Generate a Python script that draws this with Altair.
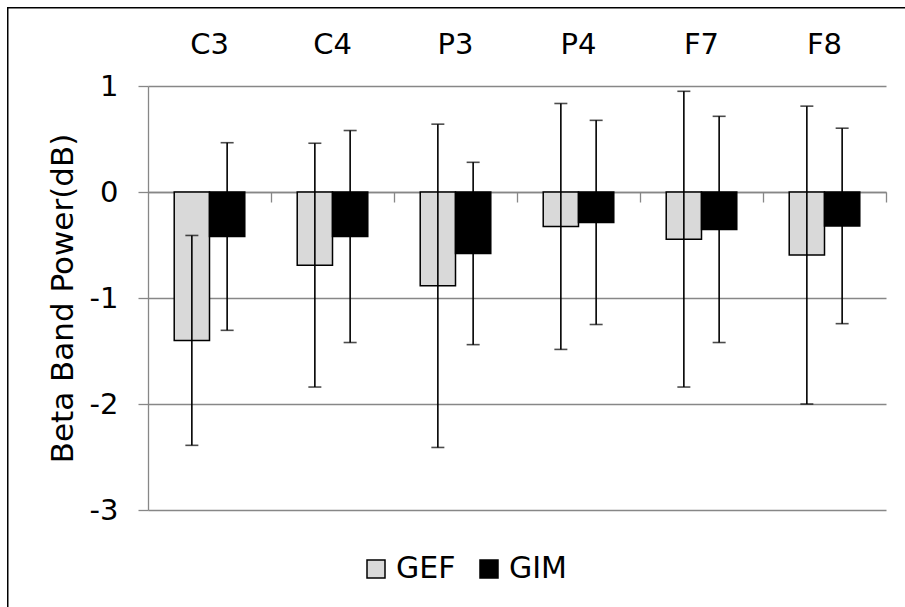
import altair as alt
import pandas as pd

electrodes = ["C3", "C4", "P3", "P4", "F7", "F8"]
groups = ["GEF", "GIM"]
gef_mean = [-1.40, -0.69, -0.885, -0.325, -0.445, -0.595]
gef_sd = [0.99, 1.15, 1.525, 1.16, 1.395, 1.405]
gim_mean = [-0.42, -0.42, -0.58, -0.287, -0.353, -0.32]
gim_sd = [0.885, 1.0, 0.86, 0.963, 1.067, 0.922]
y_ticks = [-3, -2, -1, 0, 1]

rows = []
for i, e in enumerate(electrodes):
    rows.append({"electrode": e, "group": "GEF", "mean": gef_mean[i], "sd": gef_sd[i]})
    rows.append({"electrode": e, "group": "GIM", "mean": gim_mean[i], "sd": gim_sd[i]})
df = pd.DataFrame(rows)
df["lo"] = df["mean"] - df["sd"]
df["hi"] = df["mean"] + df["sd"]

FONT = "DejaVu Sans"
GRID = "#878787"

xscale = alt.Scale(domain=electrodes, paddingInner=0, paddingOuter=0)
xoff = alt.XOffset("group:N", sort=groups,
                   scale=alt.Scale(domain=groups, paddingOuter=0.743, paddingInner=0))
yscale = alt.Scale(domain=[-3, 1], nice=False, zero=False)

base = alt.Chart(df)

bars = base.mark_bar(stroke="black", strokeWidth=1.5).encode(
    x=alt.X("electrode:N", sort=electrodes, scale=xscale,
            axis=alt.Axis(orient="top", title=None, ticks=False, tickSize=0, domain=False,
                          labelPadding=33, labelBaseline="alphabetic", labelAngle=0,
                          labelFontSize=29, labelFont=FONT, labelColor="black", grid=False)),
    xOffset=xoff,
    y=alt.Y("mean:Q", scale=yscale,
            axis=alt.Axis(values=y_ticks, title="Beta Band Power(dB)", titleFont=FONT,
                          titleFontSize=31, titleFontWeight="normal", titleColor="black",
                          titleX=-76, titleY=212, titleAngle=-90, titleAlign="center",
                          titleBaseline="alphabetic",
                          labelFont=FONT, labelFontSize=29, labelColor="black",
                          labelExpr="'' + datum.value", labelPadding=20,
                          tickSize=10, tickColor=GRID, tickWidth=1.3,
                          domainColor=GRID, domainWidth=1.3,
                          grid=True, gridColor=GRID, gridWidth=1.3)),
    y2=alt.datum(0),
    fill=alt.Fill("group:N", sort=groups,
                  scale=alt.Scale(domain=groups, range=["#d9d9d9", "#000000"]),
                  legend=alt.Legend(title=None, orient="none", legendX=213, legendY=468,
                                    direction="horizontal", symbolType="square",
                                    symbolSize=324, symbolStrokeColor="black",
                                    symbolStrokeWidth=1.5, labelFont=FONT,
                                    labelFontSize=30, labelColor="black",
                                    labelOffset=5, columnPadding=18, padding=0)),
)

err = base.mark_rule(color="black", strokeWidth=1.6).encode(
    x=alt.X("electrode:N", sort=electrodes, scale=xscale,
            axis=alt.Axis(orient="bottom", offset=-318, title=None, labels=False,
                          bandPosition=1, tickSize=10, tickColor=GRID, tickWidth=1.3,
                          domainColor=GRID, domainWidth=1.3, grid=False)),
    xOffset=xoff,
    y=alt.Y("lo:Q", scale=yscale, axis=None),
    y2="hi:Q",
)

caps_lo = base.mark_tick(color="black", thickness=1.6, size=13, orient="horizontal").encode(
    x=alt.X("electrode:N", sort=electrodes, scale=xscale, axis=None),
    xOffset=xoff,
    y=alt.Y("lo:Q", scale=yscale, axis=None),
)
caps_hi = base.mark_tick(color="black", thickness=1.6, size=13, orient="horizontal").encode(
    x=alt.X("electrode:N", sort=electrodes, scale=xscale, axis=None),
    xOffset=xoff,
    y=alt.Y("hi:Q", scale=yscale, axis=None),
)

frame_df = pd.DataFrame({"f": [0]})
frame_left = alt.Chart(frame_df).mark_rect(fill="black", strokeWidth=0).encode(
    x=alt.value(-141), x2=alt.value(-139.5), y=alt.value(-79), y2=alt.value(521))
frame_top = alt.Chart(frame_df).mark_rect(fill="black", strokeWidth=0).encode(
    x=alt.value(-141), x2=alt.value(757), y=alt.value(-79), y2=alt.value(-77.5))

chart = alt.layer(bars, err, caps_lo, caps_hi, frame_left, frame_top).resolve_axis(
    x="independent", y="independent"
).properties(
    width=738, height=424,
    autosize=alt.AutoSizeParams(type="none"),
    padding={"left": 148, "top": 86, "right": 19, "bottom": 97},
    background="white",
).configure_view(stroke=None)

chart.save("out.html", embed_options={"renderer": "svg", "actions": False})
